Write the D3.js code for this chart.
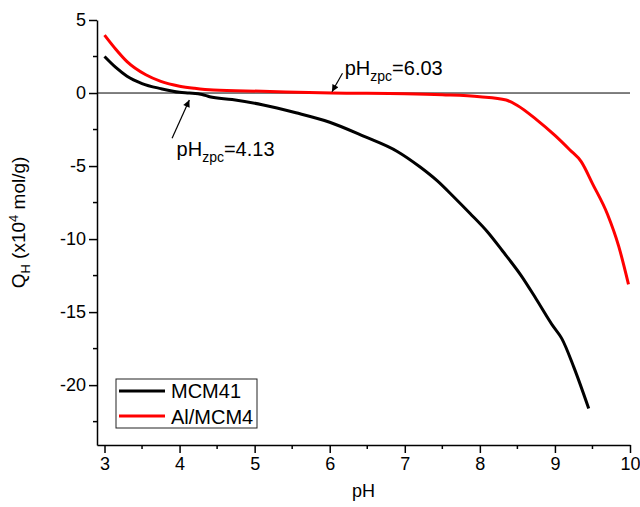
<!DOCTYPE html>
<html>
<head>
<meta charset="utf-8">
<script src="https://cdn.jsdelivr.net/npm/d3@7"></script>
<style>
  body { margin: 0; background: #fff; }
  svg { font-family: "Liberation Sans", Arial, sans-serif; }
</style>
</head>
<body>
<div class="chart"></div>
<script>
var svgWidth = 640;
var svgHeight = 507;

var margin = { top: 20, right: 10, bottom: 62, left: 97 };
var width = svgWidth - margin.left - margin.right;
var height = svgHeight - margin.top - margin.bottom;

// MCM41 (black)
var phMCM = [3.0, 3.15, 3.3, 3.5, 3.75, 4.0, 4.13, 4.3, 4.4, 4.7, 5.1, 5.55, 6.0, 6.45, 6.9, 7.2,
  7.43, 7.65, 7.87, 8.1, 8.3, 8.55, 8.75, 8.98, 9.09, 9.25, 9.45];
var qMCM = [2.5, 1.75, 1.15, 0.65, 0.3, 0.05, 0.0, -0.1, -0.25, -0.45, -0.8, -1.35, -2.0, -2.95, -4.0, -5.05,
  -6.0, -7.1, -8.25, -9.5, -10.8, -12.5, -14.1, -16.0, -16.8, -18.75, -21.6];

// Al/MCM41 (red)
var phAl = [3.0, 3.15, 3.3, 3.55, 3.75, 4.0, 4.2, 4.45, 5.1, 6.03, 7.0, 7.5, 8.0, 8.35, 8.5,
  8.75, 9.0, 9.2, 9.35, 9.5, 9.7, 9.85, 9.98];
var qAl = [3.97, 3.0, 2.15, 1.25, 0.8, 0.47, 0.32, 0.2, 0.12, 0.0, -0.05, -0.12, -0.25, -0.48, -0.85,
  -1.8, -2.9, -3.9, -4.7, -6.2, -8.3, -10.5, -13.1];

var xTicks = [3, 4, 5, 6, 7, 8, 9, 10];
var xMinor = [3.5, 4.5, 5.5, 6.5, 7.5, 8.5, 9.5];
var yTicks = [5, 0, -5, -10, -15, -20];
var yMinor = [2.5, -2.5, -7.5, -12.5, -17.5, -22.5];

var seriesNames = ["MCM41", "Al/MCM4"];
var seriesColors = ["#000000", "#ff0000"];

var svg = d3.select(".chart")
  .append("svg")
  .attr("width", svgWidth)
  .attr("height", svgHeight);

var chartGroup = svg.append("g")
  .attr("transform", `translate(${margin.left}, ${margin.top})`);

var x_scale = d3.scaleLinear().domain([2.9, 10]).range([0, width]);
var y_scale = d3.scaleLinear().domain([-24.1, 5]).range([height, 0]);

// zero line
chartGroup.append("line")
  .attr("x1", 0).attr("x2", width)
  .attr("y1", y_scale(0)).attr("y2", y_scale(0))
  .attr("stroke", "#000").attr("stroke-width", 1);

// curves
var line = d3.line()
  .x(d => x_scale(d[0]))
  .y(d => y_scale(d[1]))
  .curve(d3.curveMonotoneX);

var mcmData = phMCM.map((p, i) => [p, qMCM[i]]);
var alData = phAl.map((p, i) => [p, qAl[i]]);

chartGroup.append("path").datum(alData)
  .attr("d", line).attr("fill", "none")
  .attr("stroke", seriesColors[1]).attr("stroke-width", 3);

chartGroup.append("path").datum(mcmData)
  .attr("d", line).attr("fill", "none")
  .attr("stroke", seriesColors[0]).attr("stroke-width", 3);

// axes
var bottomAxis = d3.axisBottom(x_scale).tickValues(xTicks).tickSize(8).tickSizeOuter(0).tickPadding(4);
var leftAxis = d3.axisLeft(y_scale).tickValues(yTicks).tickSize(8).tickSizeOuter(0).tickPadding(3)
  .tickFormat(d3.format("d"));

var xg = chartGroup.append("g")
  .attr("transform", `translate(0, ${height})`)
  .call(bottomAxis);
var yg = chartGroup.append("g").call(leftAxis);

[xg, yg].forEach(function (g) {
  g.select(".domain").attr("stroke", "#000").attr("stroke-width", 1.5);
  g.selectAll(".tick line").attr("stroke", "#000").attr("stroke-width", 1.5);
  g.selectAll(".tick text").attr("fill", "#000").style("font-size", "18px")
    .style("font-family", "Liberation Sans, Arial, sans-serif");
});
yg.selectAll(".tick text").text(d => d < 0 ? "-" + Math.abs(d) : d);

chartGroup.selectAll(".xminor").data(xMinor).enter().append("line")
  .attr("x1", d => x_scale(d)).attr("x2", d => x_scale(d))
  .attr("y1", height).attr("y2", height + 4)
  .attr("stroke", "#000").attr("stroke-width", 1.5);

chartGroup.selectAll(".yminor").data(yMinor).enter().append("line")
  .attr("x1", 0).attr("x2", -4)
  .attr("y1", d => y_scale(d)).attr("y2", d => y_scale(d))
  .attr("stroke", "#000").attr("stroke-width", 1.5);

// axis labels
chartGroup.append("text")
  .attr("x", width / 2 + 0)
  .attr("y", height + 52)
  .attr("text-anchor", "middle")
  .style("font-size", "18px")
  .text("pH");

var yLabel = chartGroup.append("text")
  .attr("transform", `translate(${-72}, ${height / 2 - 10}) rotate(-90)`)
  .attr("text-anchor", "middle")
  .style("font-size", "19px");
yLabel.append("tspan").text("Q");
yLabel.append("tspan").attr("dy", 5).style("font-size", "13px").text("H");
yLabel.append("tspan").attr("dy", -5).text(" (x10");
yLabel.append("tspan").attr("dy", -7).style("font-size", "13px").text("4");
yLabel.append("tspan").attr("dy", 7).text(" mol/g)");

// annotations
var defs = svg.append("defs");
defs.append("marker")
  .attr("id", "arrow")
  .attr("viewBox", "0 0 10 10")
  .attr("refX", 10).attr("refY", 5)
  .attr("markerWidth", 10).attr("markerHeight", 7)
  .attr("markerUnits", "userSpaceOnUse")
  .attr("orient", "auto")
  .append("path").attr("d", "M0,0 L10,5 L0,10 Z").attr("fill", "#000");

var arrows = [
  { from: [3.9, -3.1], to: [4.13, -0.48] },
  { from: [6.17, 1.35], to: [6.03, 0.09] }
];
chartGroup.selectAll(".arrow").data(arrows).enter().append("line")
  .attr("x1", d => x_scale(d.from[0])).attr("y1", d => y_scale(d.from[1]))
  .attr("x2", d => x_scale(d.to[0])).attr("y2", d => y_scale(d.to[1]))
  .attr("stroke", "#000").attr("stroke-width", 1.2)
  .attr("marker-end", "url(#arrow)");

var notes = [
  { ph: 3.96, q: -4.3, value: "4.13" },
  { ph: 6.2, q: 1.23, value: "6.03" }
];
notes.forEach(function (n) {
  var t = chartGroup.append("text")
    .attr("x", x_scale(n.ph)).attr("y", y_scale(n.q))
    .style("font-size", "20px");
  t.append("tspan").text("pH");
  t.append("tspan").attr("dy", 6).style("font-size", "14px").text("zpc");
  t.append("tspan").attr("dy", -6).text("=" + n.value);
});

// legend
var legend = chartGroup.append("g")
  .attr("transform", `translate(${116 - margin.left}, ${379 - margin.top})`);
legend.append("rect")
  .attr("width", 141).attr("height", 49)
  .attr("fill", "#fff").attr("stroke", "#222").attr("stroke-width", 1);
seriesNames.forEach(function (name, i) {
  legend.append("line")
    .attr("x1", 3).attr("x2", 49)
    .attr("y1", 12 + i * 25).attr("y2", 12 + i * 25)
    .attr("stroke", seriesColors[i]).attr("stroke-width", 3);
  legend.append("text")
    .attr("x", 55).attr("y", 19 + i * 25.5)
    .style("font-size", "20px")
    .text(name);
});
</script>
</body>
</html>
